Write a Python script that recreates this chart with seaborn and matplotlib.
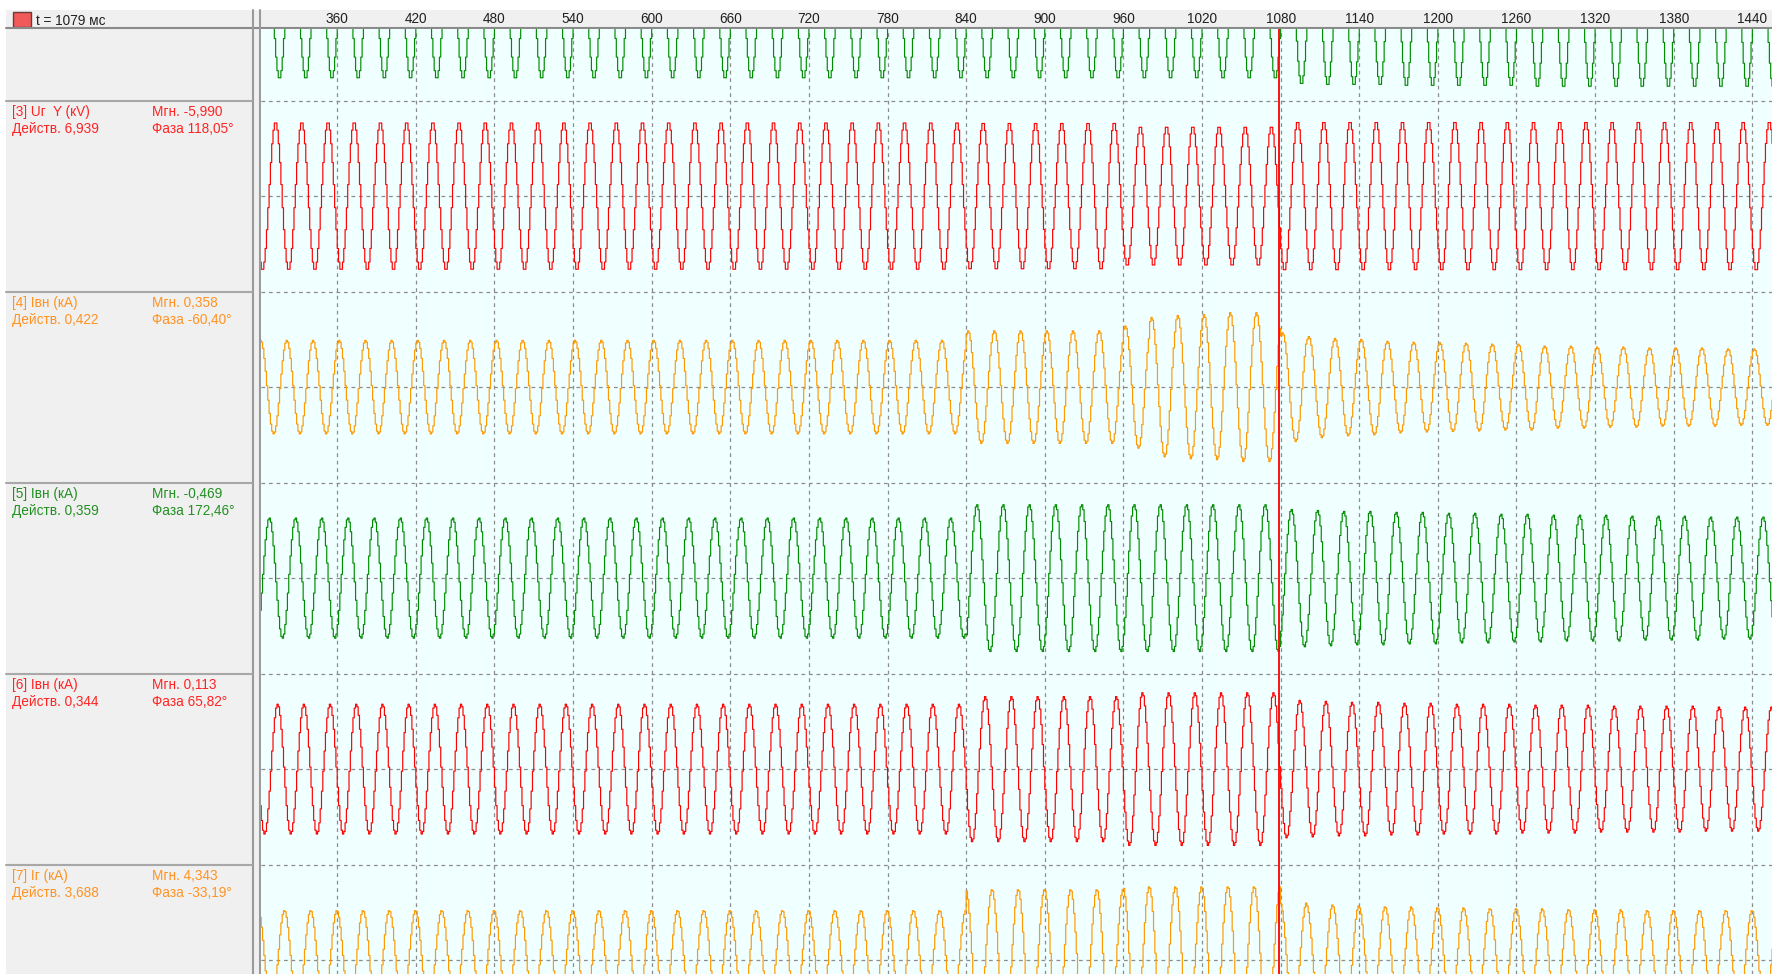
"""Oscillogram view: six recorded channels around a cursor at t = 1079 ms."""

import numpy as np
import pandas as pd
import matplotlib
matplotlib.use('Agg')
import matplotlib.pyplot as plt
from matplotlib.patches import Rectangle
from matplotlib.transforms import blended_transform_factory
import seaborn as sns

####################################################################################################
## DATA

CHANNELS = ['[2]', '[3]', '[4]', '[5]', '[6]', '[7]']
NAMES = [None, '[3] Uг  Y (кV)', '[4] Iвн (кА)', '[5] Iвн (кА)', '[6] Iвн (кА)', '[7] Iг (кА)']
INST = [None, '-5,990', '0,358', '-0,469', '0,113', '4,343']
RMS = [None, '6,939', '0,422', '0,359', '0,344', '3,688']
PHASE = [None, '118,05', '-60,40', '172,46', '65,82', '-33,19']

CURSOR_MS = 1079
TICKS = list(range(360, 1441, 60))
T_START, T_END = 300, 1455      # recorded span on screen, ms
PERIOD_MS = 20                  # 50 Hz
PEAK_MS = [5.5, 12.5, 1.1, 7.8, 14.1, 19.3]   # crest position inside the period

# crest amplitude of each 20 ms cycle starting at 300 ms (in half panel heights)
AMP_2 = [0.77] * 39 + [0.83, 0.84, 0.84, 0.84, 0.85, 0.85, 0.85, 0.85, 0.85, 0.86,
                       0.86, 0.86, 0.86, 0.86, 0.86, 0.86, 0.86, 0.86, 0.86]
AMP_3 = [0.775] * 27 + [0.77] * 6 + [0.73] * 6 + [0.78] * 19
AMP_4 = [0.49] * 27 + [0.59] * 6 + [0.64, 0.73, 0.75, 0.76, 0.78, 0.78] + \
        [0.57, 0.53, 0.51, 0.50, 0.48, 0.47, 0.465, 0.46, 0.45, 0.45,
         0.43, 0.43, 0.42, 0.42, 0.41, 0.41, 0.41, 0.40, 0.40]
AMP_5 = [0.63] * 27 + [0.77] * 12 + \
        [0.72, 0.71, 0.70, 0.70, 0.69, 0.69, 0.68, 0.68, 0.67, 0.67,
         0.66, 0.66, 0.66, 0.65, 0.65, 0.65, 0.64, 0.64, 0.64]
AMP_6 = [0.68] * 27 + [0.76] * 6 + [0.80] * 6 + \
        [0.72, 0.71, 0.70, 0.70, 0.69, 0.69, 0.68, 0.68, 0.68, 0.67,
         0.67, 0.67, 0.66, 0.66, 0.66, 0.66, 0.65, 0.65, 0.65]
AMP_7 = [0.52] * 27 + [0.74] * 6 + [0.77] * 6 + \
        [0.60, 0.58, 0.57, 0.56, 0.56, 0.55, 0.55, 0.54, 0.54, 0.54,
         0.53, 0.53, 0.53, 0.52, 0.52, 0.52, 0.52, 0.52, 0.52]
AMPS = [AMP_2, AMP_3, AMP_4, AMP_5, AMP_6, AMP_7]

####################################################################################################
## SETTINGS

W, H = 1772, 974
LINE_COLORS = ['#008c00', '#ff0000', '#ff9900', '#008c00', '#ff0000', '#ff9900']
TEXT_COLORS = [None, '#ff2424', '#ff9322', '#238f23', '#ff2424', '#ff9322']
PANEL_BG = '#f0f0f0'
PLOT_BG = '#f0ffff'
GRID = '#8c8c8c'
TOP = 0.25          # centre of the first (scrolled) panel above the plot top
PLOT_TOP, PLOT_LEFT = 29, 261
UNIT_PX = 95.5      # half panel height in pixels
FS = 9.8


def px_box(x0, y0, x1, y1):
    """Pixel rectangle (from top left) to figure fraction."""
    return [x0 / W, 1 - y1 / H, (x1 - x0) / W, (y1 - y0) / H]


sns.set_style('white')
plt.rcParams['font.family'] = ['Liberation Sans', 'DejaVu Sans']

# Build the sampled (1 kHz) traces
t_ms = np.arange(T_START, T_END + 1)
cycle = (t_ms - T_START) // PERIOD_MS
frames = []
for ind, (chan, amp, peak) in enumerate(zip(CHANNELS, AMPS, PEAK_MS)):
    centre = TOP - 2 * ind
    vals = centre + np.asarray(amp)[cycle] * np.cos(2 * np.pi * (t_ms - peak) / PERIOD_MS)
    frames.append(pd.DataFrame({'t': t_ms, 'value': vals, 'channel': chan}))
df = pd.concat(frames, ignore_index=True)

fig = plt.figure(figsize=(W / 100, H / 100), dpi=100)

# Background / left panel drawn in pixel coordinates
bg = fig.add_axes([0, 0, 1, 1], zorder=0)
bg.set_xlim(0, W)
bg.set_ylim(H, 0)
bg.axis('off')
bg.add_patch(Rectangle((6, 10), W - 6, 18, color=PANEL_BG, lw=0))
bg.add_patch(Rectangle((6, 10), 254, H - 10, color=PANEL_BG, lw=0))
bg.plot([6, W], [28.3, 28.3], color='#8a8a8a', lw=1.5)
for xx in [253.3, 259.6]:
    bg.plot([xx, xx], [10, H], color='#9a9a9a', lw=1.5)
bg.add_patch(Rectangle((13, 11.5), 18, 15, facecolor='#f25a5a', edgecolor='#6a3a3a', lw=1))
bg.text(36, 25, f't = {CURSOR_MS} мс', fontsize=FS, color='#202020', va='baseline')

# Channel captions
for ind in range(1, len(CHANNELS)):
    y_b = PLOT_TOP + (1 - TOP + 2 * (ind - 1)) * UNIT_PX
    bg.plot([6, 252.5], [y_b, y_b], color='#a8a8a8', lw=1.5)
    col = TEXT_COLORS[ind]
    bg.text(12, y_b + 15, NAMES[ind], fontsize=FS, color=col, va='baseline')
    bg.text(152, y_b + 15, f'Мгн. {INST[ind]}', fontsize=FS, color=col, va='baseline')
    bg.text(12, y_b + 32.5, f'Действ. {RMS[ind]}', fontsize=FS, color=col, va='baseline')
    bg.text(152, y_b + 32.5, f'Фаза {PHASE[ind]}°', fontsize=FS, color=col, va='baseline')

# Waveform area
ax = fig.add_axes(px_box(PLOT_LEFT, PLOT_TOP, W, H), zorder=1)
ax.set_facecolor(PLOT_BG)
x_lo = 360 - (337.3 - PLOT_LEFT) / 1.3117
ax.set_xlim(x_lo, T_END)
ax.set_ylim(-(H - PLOT_TOP) / UNIT_PX, 0)

dash = (0, (3, 3))
for tick in TICKS:
    ax.axvline(tick, color=GRID, lw=0.9, ls=dash, zorder=1)
for ind in range(len(CHANNELS)):
    for yy in [TOP - 2 * ind, TOP - 1 - 2 * ind]:
        ax.axhline(yy, color=GRID, lw=0.9, ls=dash, zorder=1)

sns.lineplot(data=df, x='t', y='value', hue='channel', palette=dict(zip(CHANNELS, LINE_COLORS)),
             estimator=None, errorbar=None, sort=False, legend=False, drawstyle='steps-post',
             lw=0.85, ax=ax, zorder=2)
ax.axvline(CURSOR_MS, color='#ff0000', lw=1.3, zorder=3)

ax.set(xlabel=None, ylabel=None, xticks=[], yticks=[])
for spine in ax.spines.values():
    spine.set_visible(False)

# Time scale in the header
trans = blended_transform_factory(ax.transData, fig.transFigure)
for tick in TICKS:
    fig.text(tick, 1 - 22.7 / H, str(tick), transform=trans, ha='center', va='baseline',
             fontsize=FS, color='#202020', zorder=5)

fig.savefig('out.png', dpi=100)
